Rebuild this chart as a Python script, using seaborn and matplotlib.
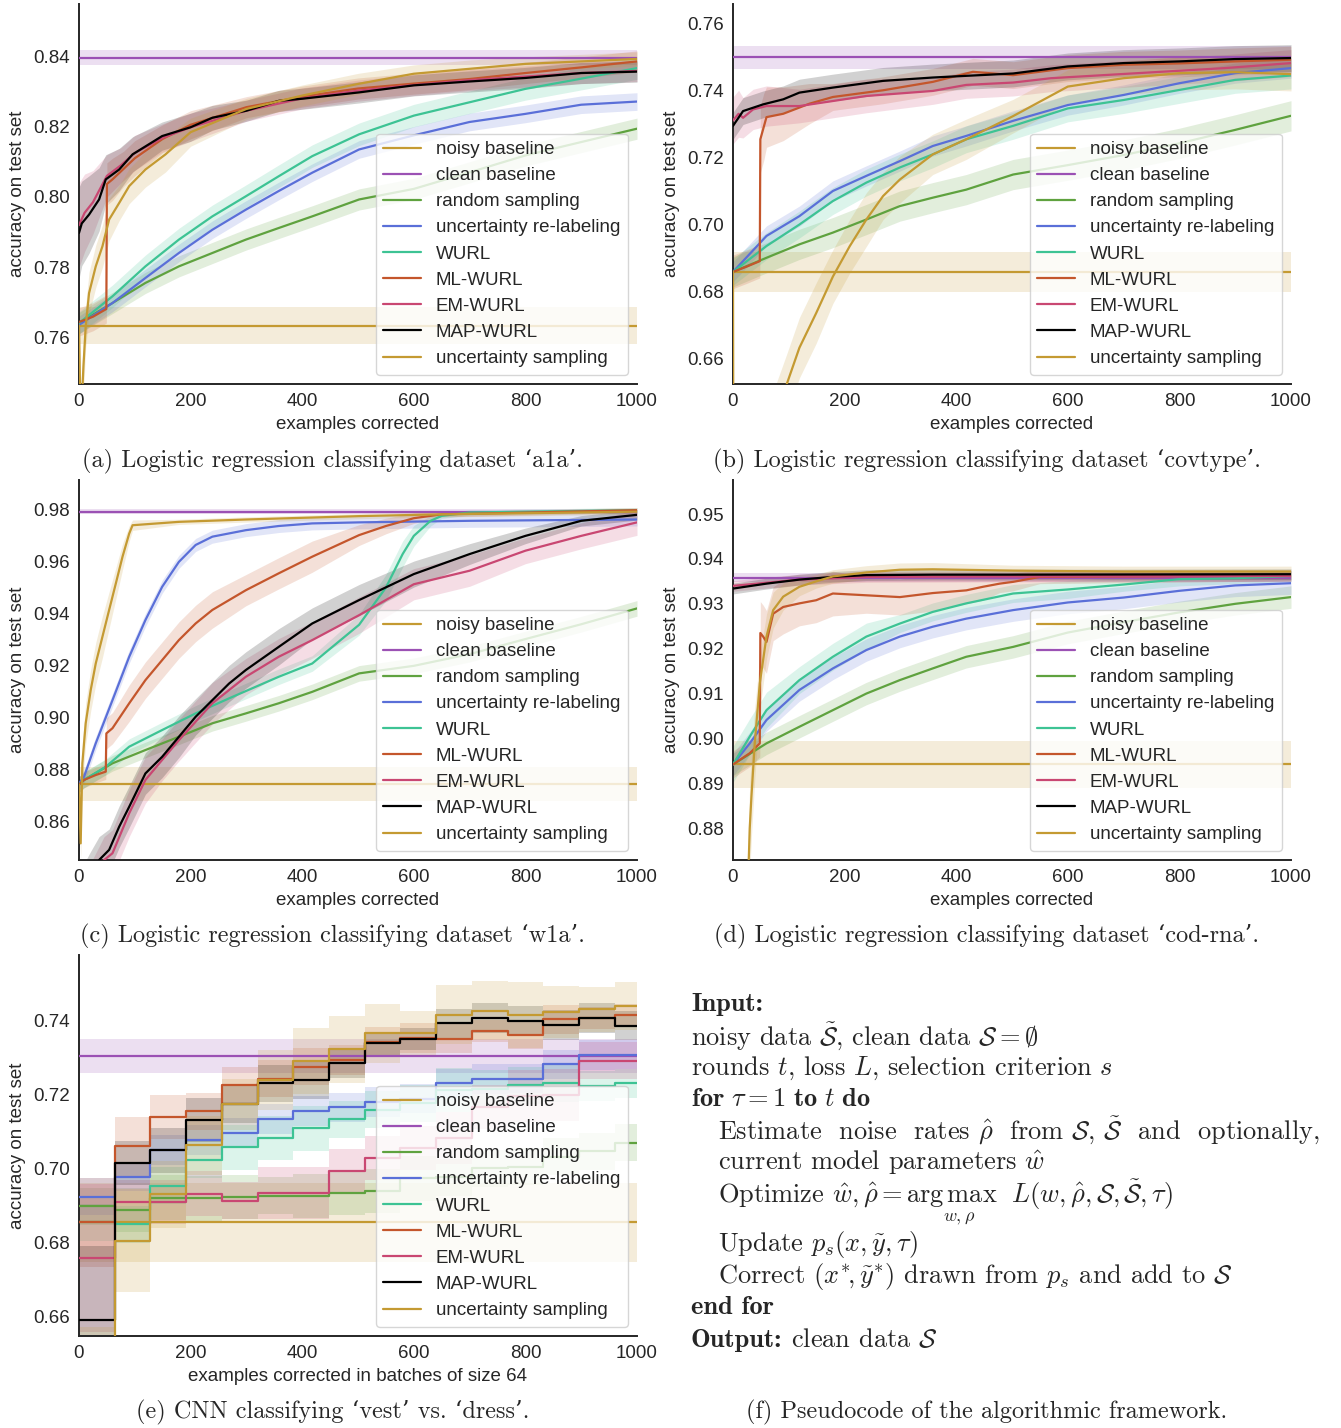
import numpy as np
import pandas as pd
import matplotlib
matplotlib.use("Agg")
import matplotlib.pyplot as plt
import seaborn as sns

# ---------------- common labels / ticks ----------------
METHODS = ["noisy baseline", "clean baseline", "random sampling",
           "uncertainty re-labeling", "WURL", "ML-WURL", "EM-WURL",
           "MAP-WURL", "uncertainty sampling"]
X_TICKS = [0, 200, 400, 600, 800, 1000]

# ---------------- panel (a) a1a ----------------
a_noisy, a_noisy_b = 0.7635, 0.0052
a_clean, a_clean_b = 0.8396, 0.0021
a_x_grid = [0, 60, 119, 179, 239, 299, 358, 418, 502, 600, 700, 800, 900, 1000]
a_y_rand = [0.7642, 0.7699, 0.7756, 0.7803, 0.7841, 0.7879, 0.7912, 0.7945, 0.7993, 0.8023, 0.8070, 0.8118, 0.8156, 0.8194]
a_y_unc = [0.7637, 0.7699, 0.7770, 0.7841, 0.7907, 0.7964, 0.8017, 0.8069, 0.8135, 0.8175, 0.8213, 0.8236, 0.8262, 0.8271]
a_y_wurl = [0.7642, 0.7718, 0.7803, 0.7879, 0.7945, 0.8002, 0.8059, 0.8116, 0.8178, 0.8231, 0.8269, 0.8307, 0.8336, 0.8366]
a_x_ml = [0, 25, 49, 50, 60, 80, 100, 150, 200, 300, 400, 500, 600, 700, 800, 900, 1000]
a_y_ml = [0.7645, 0.7660, 0.7682, 0.8037, 0.8050, 0.8080, 0.8110, 0.8165, 0.8205, 0.8255, 0.8285, 0.8308, 0.8322, 0.8335, 0.8352, 0.8368, 0.8385]
a_b_ml = [0.004, 0.004, 0.004, 0.006, 0.006, 0.005, 0.005, 0.004, 0.004, 0.003, 0.003, 0.003, 0.003, 0.003, 0.003, 0.003, 0.003]
a_x_em = [0, 10, 25, 50, 75, 100, 150, 200, 300, 400, 500, 600, 700, 800, 900, 1000]
a_y_em = [0.7920, 0.7955, 0.7985, 0.8060, 0.8090, 0.8125, 0.8168, 0.8198, 0.8245, 0.8280, 0.8302, 0.8318, 0.8332, 0.8342, 0.8352, 0.8358]
a_b_em = [0.012, 0.011, 0.009, 0.006, 0.005, 0.005, 0.004, 0.004, 0.003, 0.003, 0.003, 0.003, 0.003, 0.003, 0.003, 0.003]
a_x_map = [0, 5, 18, 36, 48, 72, 96, 149, 200, 239, 300, 358, 400, 502, 600, 700, 800, 900, 1000]
a_y_map = [0.7898, 0.7925, 0.7950, 0.7993, 0.8050, 0.8078, 0.8121, 0.8173, 0.8198, 0.8225, 0.8245, 0.8273, 0.8279, 0.8297, 0.8317, 0.8328, 0.8338, 0.8352, 0.8356]
a_b_map = [0.013, 0.012, 0.011, 0.009, 0.007, 0.006, 0.005, 0.004, 0.004, 0.0035, 0.003, 0.003, 0.003, 0.003, 0.003, 0.003, 0.003, 0.003, 0.003]
a_x_us = [0, 3, 8, 12, 18, 30, 42, 54, 72, 90, 119, 155, 200, 300, 400, 500, 600, 700, 800, 900, 1000]
a_y_us = [0.7635, 0.7350, 0.7520, 0.7632, 0.7727, 0.7803, 0.7860, 0.7936, 0.7983, 0.8031, 0.8078, 0.8121, 0.8184, 0.8250, 0.8288, 0.8321, 0.8350, 0.8364, 0.8378, 0.8385, 0.8392]
a_b_us = [0.010, 0.010, 0.008, 0.006, 0.006, 0.006, 0.006, 0.006, 0.005, 0.005, 0.005, 0.005, 0.004, 0.003, 0.003, 0.003, 0.0025, 0.0025, 0.002, 0.002, 0.002]

# ---------------- panel (b) covtype ----------------
b_noisy, b_noisy_b = 0.6859, 0.006
b_clean, b_clean_b = 0.7498, 0.0035
b_x_grid = [0, 60, 119, 179, 239, 299, 358, 418, 502, 600, 700, 800, 900, 1000]
b_y_rand = [0.6859, 0.6901, 0.6941, 0.6976, 0.7015, 0.7055, 0.7080, 0.7104, 0.7149, 0.7177, 0.7207, 0.7242, 0.7282, 0.7324]
b_y_unc = [0.6859, 0.6966, 0.7025, 0.7100, 0.7145, 0.7189, 0.7234, 0.7264, 0.7309, 0.7356, 0.7386, 0.7421, 0.7451, 0.7466]
b_y_wurl = [0.6859, 0.6936, 0.7000, 0.7070, 0.7125, 0.7170, 0.7209, 0.7254, 0.7294, 0.7346, 0.7371, 0.7401, 0.7431, 0.7444]
b_x_ml = [0, 25, 48, 49, 55, 60, 90, 137, 179, 269, 358, 430, 502, 600, 700, 800, 900, 1000]
b_y_ml = [0.6859, 0.6875, 0.6891, 0.7254, 0.7290, 0.7320, 0.7330, 0.7360, 0.7380, 0.7400, 0.7425, 0.7455, 0.7445, 0.7466, 0.7476, 0.7480, 0.7486, 0.7491]
b_b_ml = [0.005, 0.005, 0.005, 0.010, 0.010, 0.009, 0.008, 0.006, 0.004, 0.004, 0.004, 0.004, 0.004, 0.004, 0.004, 0.004, 0.004, 0.004]
b_x_em = [0, 10, 18, 36, 60, 119, 179, 239, 358, 418, 502, 570, 725, 881, 1000]
b_y_em = [0.7310, 0.7330, 0.7318, 0.7343, 0.7353, 0.7353, 0.7368, 0.7383, 0.7398, 0.7416, 0.7423, 0.7436, 0.7451, 0.7466, 0.7481]
b_b_em = [0.007, 0.007, 0.006, 0.006, 0.006, 0.005, 0.005, 0.005, 0.004, 0.004, 0.004, 0.004, 0.004, 0.004, 0.004]
b_x_map = [0, 18, 54, 90, 119, 179, 269, 358, 502, 600, 700, 800, 900, 1000]
b_y_map = [0.7294, 0.7338, 0.7358, 0.7373, 0.7393, 0.7408, 0.7428, 0.7438, 0.7450, 0.7471, 0.7481, 0.7486, 0.7493, 0.7496]
b_x_us = [0, 1, 50, 96, 119, 149, 179, 209, 239, 269, 299, 358, 418, 502, 600, 700, 800, 900, 1000]
b_y_us = [0.6859, 0.6000, 0.6300, 0.6523, 0.6633, 0.6736, 0.6845, 0.6935, 0.7015, 0.7085, 0.7134, 0.7209, 0.7254, 0.7323, 0.7411, 0.7436, 0.7451, 0.7454, 0.7448]
b_b_us = [0.006, 0.010, 0.010, 0.009, 0.009, 0.009, 0.008, 0.008, 0.008, 0.007, 0.007, 0.006, 0.006, 0.005, 0.005, 0.005, 0.005, 0.005, 0.005]

# ---------------- panel (c) w1a ----------------
c_noisy, c_noisy_b = 0.8741, 0.0065
c_clean, c_clean_b = 0.9790, 0.0010
c_x_us = [0, 3, 6, 12, 21, 30, 42, 54, 66, 78, 90, 96, 179, 299, 502, 650, 1000]
c_y_us = [0.8740, 0.8514, 0.8822, 0.8976, 0.9104, 0.9206, 0.9309, 0.9412, 0.9514, 0.9617, 0.9706, 0.9738, 0.9751, 0.9760, 0.9773, 0.9780, 0.9790]
c_b_us = [0.006, 0.006, 0.008, 0.008, 0.008, 0.008, 0.008, 0.007, 0.006, 0.005, 0.003, 0.002, 0.001, 0.001, 0.001, 0.001, 0.001]
c_x_unc = [0, 9, 30, 60, 90, 119, 149, 179, 209, 239, 299, 358, 418, 502, 700, 1000]
c_y_unc = [0.8745, 0.8770, 0.8899, 0.9065, 0.9232, 0.9373, 0.9501, 0.9597, 0.9662, 0.9694, 0.9719, 0.9735, 0.9745, 0.9749, 0.9755, 0.9760]
c_x_ml = [0, 9, 30, 48, 49, 60, 90, 119, 149, 179, 209, 239, 299, 358, 418, 502, 550, 600, 650, 700, 1000]
c_y_ml = [0.8740, 0.8758, 0.8777, 0.8790, 0.8937, 0.8957, 0.9053, 0.9142, 0.9219, 0.9296, 0.9360, 0.9412, 0.9488, 0.9553, 0.9617, 0.9700, 0.9735, 0.9765, 0.9780, 0.9782, 0.9796]
c_b_ml = [0.003, 0.003, 0.003, 0.003, 0.006, 0.006, 0.007, 0.007, 0.007, 0.007, 0.007, 0.007, 0.006, 0.006, 0.006, 0.004, 0.003, 0.002, 0.001, 0.001, 0.001]
c_x_wurl = [0, 9, 48, 90, 149, 209, 269, 358, 418, 502, 550, 580, 600, 630, 650, 700, 1000]
c_y_wurl = [0.8740, 0.8758, 0.8809, 0.8886, 0.8950, 0.9014, 0.9072, 0.9155, 0.9206, 0.9355, 0.9498, 0.9627, 0.9697, 0.9755, 0.9774, 0.9787, 0.9796]
c_b_wurl = [0.003, 0.003, 0.003, 0.003, 0.003, 0.003, 0.003, 0.003, 0.003, 0.004, 0.005, 0.005, 0.004, 0.002, 0.001, 0.001, 0.001]
c_x_map = [0, 20, 36, 54, 72, 90, 119, 149, 179, 209, 239, 269, 299, 358, 418, 502, 600, 700, 800, 900, 1000]
c_y_map = [0.8300, 0.8380, 0.8450, 0.8489, 0.8578, 0.8655, 0.8783, 0.8847, 0.8924, 0.9001, 0.9065, 0.9129, 0.9181, 0.9270, 0.9360, 0.9450, 0.9550, 0.9627, 0.9697, 0.9755, 0.9778]
c_b_map = [0.010, 0.010, 0.009, 0.008, 0.008, 0.008, 0.008, 0.008, 0.008, 0.007, 0.007, 0.007, 0.007, 0.007, 0.006, 0.006, 0.005, 0.004, 0.003, 0.002, 0.002]
c_x_em = [0, 45, 60, 90, 119, 149, 179, 239, 299, 358, 418, 502, 600, 700, 800, 900, 1000]
c_y_em = [0.8250, 0.8450, 0.8476, 0.8630, 0.8758, 0.8835, 0.8911, 0.9053, 0.9155, 0.9232, 0.9296, 0.9392, 0.9511, 0.9563, 0.9640, 0.9697, 0.9749]
c_b_em = [0.010, 0.009, 0.009, 0.009, 0.009, 0.008, 0.008, 0.008, 0.007, 0.007, 0.007, 0.007, 0.006, 0.006, 0.005, 0.005, 0.005]
c_x_rand = [0, 9, 60, 119, 179, 239, 299, 358, 418, 502, 600, 700, 800, 900, 1000]
c_y_rand = [0.8740, 0.8758, 0.8822, 0.8873, 0.8924, 0.8976, 0.9014, 0.9053, 0.9097, 0.9168, 0.9197, 0.9242, 0.9300, 0.9357, 0.9418]

# ---------------- panel (d) cod-rna ----------------
d_noisy, d_noisy_b = 0.8942, 0.0052
d_clean, d_clean_b = 0.9358, 0.0010
d_x_map = [0, 60, 119, 179, 239, 358, 502, 1000]
d_y_map = [0.9334, 0.9345, 0.9354, 0.9360, 0.9364, 0.9365, 0.9365, 0.9366]
d_x_em = [0, 119, 239, 502, 1000]
d_y_em = [0.9340, 0.9354, 0.9360, 0.9361, 0.9362]
d_x_us = [0, 25, 30, 33, 39, 48, 60, 72, 90, 119, 149, 179, 239, 299, 358, 502, 700, 1000]
d_y_us = [0.8000, 0.8600, 0.8800, 0.8870, 0.8989, 0.9123, 0.9227, 0.9286, 0.9316, 0.9338, 0.9350, 0.9361, 0.9370, 0.9376, 0.9377, 0.9374, 0.9372, 0.9372]
d_b_us = [0.010, 0.010, 0.010, 0.009, 0.008, 0.006, 0.005, 0.004, 0.003, 0.002, 0.0015, 0.0015, 0.0015, 0.0015, 0.0015, 0.0012, 0.0012, 0.0012]
d_x_ml = [0, 30, 48, 49, 54, 60, 72, 90, 119, 149, 179, 239, 299, 358, 418, 448, 478, 502, 550, 1000]
d_y_ml = [0.8942, 0.8967, 0.8989, 0.9235, 0.9227, 0.9215, 0.9278, 0.9293, 0.9301, 0.9308, 0.9323, 0.9319, 0.9315, 0.9324, 0.9330, 0.9338, 0.9345, 0.9349, 0.9360, 0.9363]
d_b_ml = [0.003, 0.003, 0.003, 0.007, 0.007, 0.007, 0.006, 0.006, 0.005, 0.005, 0.005, 0.004, 0.004, 0.004, 0.003, 0.003, 0.002, 0.002, 0.0015, 0.0012]
d_x_grid = [0, 30, 60, 119, 179, 239, 299, 358, 418, 502, 600, 700, 800, 900, 1000]
d_y_wurl = [0.8942, 0.9004, 0.9063, 0.9130, 0.9182, 0.9227, 0.9256, 0.9282, 0.9301, 0.9323, 0.9332, 0.9343, 0.9355, 0.9357, 0.9362]
d_b_wurl = [0.004, 0.004, 0.004, 0.003, 0.003, 0.003, 0.002, 0.002, 0.002, 0.002, 0.002, 0.0015, 0.0015, 0.0012, 0.0012]
d_y_unc = [0.8942, 0.8989, 0.9041, 0.9108, 0.9156, 0.9197, 0.9227, 0.9249, 0.9267, 0.9286, 0.9303, 0.9314, 0.9329, 0.9341, 0.9346]
d_x_rand = [0, 60, 119, 179, 239, 299, 358, 418, 502, 600, 700, 800, 900, 1000]
d_y_rand = [0.8942, 0.8989, 0.9026, 0.9063, 0.9100, 0.9130, 0.9156, 0.9182, 0.9204, 0.9236, 0.9259, 0.9281, 0.9300, 0.9315]

# ---------------- panel (e) CNN, batches of 64 ----------------
e_batch_starts = [0, 64, 128, 192, 256, 320, 384, 448, 512, 576, 640, 704, 768, 832, 896, 960]
e_x_end = 1000
e_noisy, e_noisy_b = 0.6853, 0.0106
e_clean, e_clean_b = 0.7304, 0.0046
e_y_us = [0.6450, 0.6804, 0.6929, 0.7062, 0.7172, 0.7238, 0.7290, 0.7321, 0.7364, 0.7364, 0.7415, 0.7425, 0.7414, 0.7421, 0.7429, 0.7438]
e_b_us = [0.012, 0.014, 0.009, 0.008, 0.007, 0.008, 0.009, 0.009, 0.008, 0.006, 0.008, 0.008, 0.009, 0.007, 0.006, 0.0065]
e_y_ml = [0.6853, 0.7059, 0.7138, 0.7154, 0.7224, 0.7242, 0.7274, 0.7292, 0.7341, 0.7352, 0.7350, 0.7370, 0.7361, 0.7402, 0.7405, 0.7414]
e_b_ml = [0.012, 0.008, 0.006, 0.005, 0.005, 0.005, 0.005, 0.004, 0.004, 0.004, 0.004, 0.003, 0.004, 0.004, 0.003, 0.003]
e_y_map = [0.6589, 0.7013, 0.7048, 0.7130, 0.7172, 0.7229, 0.7238, 0.7283, 0.7337, 0.7349, 0.7391, 0.7406, 0.7397, 0.7386, 0.7405, 0.7385]
e_b_map = [0.020, 0.006, 0.006, 0.006, 0.005, 0.005, 0.005, 0.004, 0.003, 0.003, 0.004, 0.004, 0.004, 0.004, 0.004, 0.004]
e_y_unc = [0.6922, 0.6977, 0.7049, 0.7076, 0.7094, 0.7132, 0.7155, 0.7164, 0.7179, 0.7188, 0.7229, 0.7241, 0.7242, 0.7280, 0.7305, 0.7307]
e_b_unc = [0.005, 0.004, 0.004, 0.004, 0.004, 0.004, 0.004, 0.004, 0.004, 0.004, 0.004, 0.004, 0.004, 0.004, 0.004, 0.004]
e_y_wurl = [0.6853, 0.6848, 0.6952, 0.7022, 0.7056, 0.7082, 0.7107, 0.7132, 0.7157, 0.7175, 0.7211, 0.7215, 0.7224, 0.7229, 0.7222, 0.7229]
e_b_wurl = [0.005, 0.005, 0.005, 0.005, 0.006, 0.006, 0.006, 0.005, 0.005, 0.005, 0.006, 0.005, 0.005, 0.005, 0.004, 0.004]
e_y_em = [0.6758, 0.6909, 0.6909, 0.6931, 0.6911, 0.6933, 0.6933, 0.6992, 0.7028, 0.7055, 0.7082, 0.7165, 0.7195, 0.7197, 0.7290, 0.7290]
e_b_em = [0.020, 0.006, 0.006, 0.006, 0.005, 0.007, 0.007, 0.006, 0.006, 0.006, 0.007, 0.006, 0.007, 0.007, 0.005, 0.005]
e_y_rand = [0.6897, 0.6886, 0.6920, 0.6918, 0.6922, 0.6925, 0.6925, 0.6933, 0.6938, 0.6972, 0.6975, 0.6999, 0.7004, 0.7031, 0.7046, 0.7068]
e_b_rand = [0.005, 0.006, 0.006, 0.006, 0.006, 0.005, 0.006, 0.006, 0.006, 0.006, 0.005, 0.005, 0.005, 0.005, 0.005, 0.005]

# ---------------- axes ranges / ticks ----------------
a_ylim, a_yticks = (0.7469, 0.8548), [0.76, 0.78, 0.80, 0.82, 0.84]
b_ylim, b_yticks = (0.6525, 0.7657), [0.66, 0.68, 0.70, 0.72, 0.74, 0.76]
c_ylim, c_yticks = (0.8450, 0.9912), [0.86, 0.88, 0.90, 0.92, 0.94, 0.96, 0.98]
d_ylim, d_yticks = (0.8729, 0.9576), [0.88, 0.89, 0.90, 0.91, 0.92, 0.93, 0.94, 0.95]
e_ylim, e_yticks = (0.6546, 0.7576), [0.66, 0.68, 0.70, 0.72, 0.74]

CAPTIONS = ["(a) Logistic regression classifying dataset \u2018a1a\u2019.",
            "(b) Logistic regression classifying dataset \u2018covtype\u2019.",
            "(c) Logistic regression classifying dataset \u2018w1a\u2019.",
            "(d) Logistic regression classifying dataset \u2018cod-rna\u2019.",
            "(e) CNN classifying \u2018vest\u2019 vs. \u2018dress\u2019.",
            "(f) Pseudocode of the algorithmic framework."]

PSEUDO = [
    (0, None, "Input:"),
    (0, r"noisy data $\tilde{\mathcal{S}}$, clean data $\mathcal{S} = \emptyset$", None),
    (0, r"rounds $t$, loss $L$, selection criterion $s$", None),
    (0, r"$\mathbf{for}\ \tau = 1\ \mathbf{to}\ t\ \mathbf{do}$", None),
    (1, r"Estimate  noise  rates $\hat{\rho}$  from $\mathcal{S}$, $\tilde{\mathcal{S}}$  and  optionally,", None),
    (1, r"current model parameters $\hat{w}$", None),
    (1, r"Optimize $\hat{w}, \hat{\rho} = \mathrm{arg\,max}\ \ L(w, \hat{\rho}, \mathcal{S}, \tilde{\mathcal{S}}, \tau)$", None),
    (1, r"Update $p_s(x, \tilde{y}, \tau)$", None),
    (1, r"Correct $(x^{*}\!, \tilde{y}^{*})$ drawn from $p_s$ and add to $\mathcal{S}$", None),
    (0, None, "end for"),
    (0, r"clean data $\mathcal{S}$", "Output:"),
]

# ---------------- style ----------------
sns.set_theme(style="white")
plt.rcParams['font.family'] = ['Liberation Sans', 'DejaVu Sans']
plt.rcParams['mathtext.fontset'] = 'cm'
FS = 13.5

COLORS = {"noisy baseline": "#c49a32", "clean baseline": "#9b51b4",
          "random sampling": "#5fa23f", "uncertainty re-labeling": "#5a6fd8",
          "WURL": "#3dc394", "ML-WURL": "#c4562c", "EM-WURL": "#c94772",
          "MAP-WURL": "#000000", "uncertainty sampling": "#c49a32"}

W, H = 1341, 1428
fig = plt.figure(figsize=(W / 100, H / 100), dpi=100)


def rect(l, t, r, b):
    return [l / W, 1 - b / H, (r - l) / W, (b - t) / H]


def hline(v):
    return [0, 1000], [v, v]


def draw(ax, series, ylim, yticks, xlabel, step=False):
    handles = []
    for name, x, y, b in series:
        x = np.asarray(x, float)
        y = np.asarray(y, float)
        b = np.broadcast_to(np.asarray(b, float), y.shape)
        if step:
            x = np.append(x, e_x_end)
            y = np.append(y, y[-1])
            b = np.append(b, b[-1])
        c = COLORS[name]
        ax.fill_between(x, y - b, y + b, color=c, alpha=0.18, lw=0, zorder=1,
                        step='post' if step else None)
        df = pd.DataFrame({"examples": x, "acc": y})
        kw = dict(drawstyle='steps-post') if step else {}
        sns.lineplot(data=df, x="examples", y="acc", ax=ax, color=c, lw=1.6,
                     estimator=None, sort=False, zorder=3, **kw)
        handles.append(ax.lines[-1])
    ax.set_xlim(0, 1000)
    ax.set_ylim(*ylim)
    ax.set_xticks(X_TICKS)
    ax.set_yticks(yticks)
    ax.set_yticklabels([f"{t:.2f}" for t in yticks])
    ax.set_xlabel(xlabel, fontsize=FS, labelpad=4)
    ax.set_ylabel("accuracy on test set", fontsize=FS, labelpad=5)
    ax.tick_params(labelsize=FS, colors='.15', length=0, pad=6.5)
    for s in ['left', 'bottom']:
        ax.spines[s].set_color('.15')
        ax.spines[s].set_linewidth(1.4)
    sns.despine(ax=ax)
    ax.legend(handles, METHODS, loc='lower right', fontsize=FS,
              labelspacing=0.48, handlelength=2.0, frameon=True,
              borderaxespad=0.5)


def build(noisy, noisy_b, clean, clean_b, parts):
    s = [("noisy baseline", *hline(noisy), noisy_b),
         ("clean baseline", *hline(clean), clean_b)]
    return s + parts


ax = fig.add_axes(rect(79, 4, 637, 384))
draw(ax, build(a_noisy, a_noisy_b, a_clean, a_clean_b, [
    ("random sampling", a_x_grid, a_y_rand, 0.003),
    ("uncertainty re-labeling", a_x_grid, a_y_unc, 0.0025),
    ("WURL", a_x_grid, a_y_wurl, 0.0032),
    ("ML-WURL", a_x_ml, a_y_ml, a_b_ml),
    ("EM-WURL", a_x_em, a_y_em, a_b_em),
    ("MAP-WURL", a_x_map, a_y_map, a_b_map),
    ("uncertainty sampling", a_x_us, a_y_us, a_b_us)]),
    a_ylim, a_yticks, "examples corrected")

ax = fig.add_axes(rect(733, 4, 1291, 384))
draw(ax, build(b_noisy, b_noisy_b, b_clean, b_clean_b, [
    ("random sampling", b_x_grid, b_y_rand, 0.0045),
    ("uncertainty re-labeling", b_x_grid, b_y_unc, 0.003),
    ("WURL", b_x_grid, b_y_wurl, 0.004),
    ("ML-WURL", b_x_ml, b_y_ml, b_b_ml),
    ("EM-WURL", b_x_em, b_y_em, b_b_em),
    ("MAP-WURL", b_x_map, b_y_map, 0.004),
    ("uncertainty sampling", b_x_us, b_y_us, b_b_us)]),
    b_ylim, b_yticks, "examples corrected")

ax = fig.add_axes(rect(79, 480, 637, 860))
draw(ax, build(c_noisy, c_noisy_b, c_clean, c_clean_b, [
    ("random sampling", c_x_rand, c_y_rand, 0.003),
    ("uncertainty re-labeling", c_x_unc, c_y_unc, 0.0025),
    ("WURL", c_x_wurl, c_y_wurl, c_b_wurl),
    ("ML-WURL", c_x_ml, c_y_ml, c_b_ml),
    ("EM-WURL", c_x_em, c_y_em, c_b_em),
    ("MAP-WURL", c_x_map, c_y_map, c_b_map),
    ("uncertainty sampling", c_x_us, c_y_us, c_b_us)]),
    c_ylim, c_yticks, "examples corrected")

ax = fig.add_axes(rect(733, 480, 1291, 860))
draw(ax, build(d_noisy, d_noisy_b, d_clean, d_clean_b, [
    ("random sampling", d_x_rand, d_y_rand, 0.0025),
    ("uncertainty re-labeling", d_x_grid, d_y_unc, 0.0025),
    ("WURL", d_x_grid, d_y_wurl, d_b_wurl),
    ("ML-WURL", d_x_ml, d_y_ml, d_b_ml),
    ("EM-WURL", d_x_em, d_y_em, 0.0012),
    ("MAP-WURL", d_x_map, d_y_map, 0.0012),
    ("uncertainty sampling", d_x_us, d_y_us, d_b_us)]),
    d_ylim, d_yticks, "examples corrected")

ax = fig.add_axes(rect(79, 955, 637, 1336))
ones = np.ones(len(e_batch_starts))
draw(ax, [
    ("noisy baseline", e_batch_starts, e_noisy * ones, e_noisy_b),
    ("clean baseline", e_batch_starts, e_clean * ones, e_clean_b),
    ("random sampling", e_batch_starts, e_y_rand, e_b_rand),
    ("uncertainty re-labeling", e_batch_starts, e_y_unc, e_b_unc),
    ("WURL", e_batch_starts, e_y_wurl, e_b_wurl),
    ("ML-WURL", e_batch_starts, e_y_ml, e_b_ml),
    ("EM-WURL", e_batch_starts, e_y_em, e_b_em),
    ("MAP-WURL", e_batch_starts, e_y_map, e_b_map),
    ("uncertainty sampling", e_batch_starts, e_y_us, e_b_us)],
    e_ylim, e_yticks, "examples corrected in batches of size 64", step=True)

# ---------------- captions ----------------
SERIF = ['cmr10', 'DejaVu Serif']
SERIF_B = ['cmb10', 'DejaVu Serif']
CAP_FS = 17.5
cap_pos = [(332, 461), (987, 461), (332, 936), (987, 936), (333, 1412), (987, 1412)]
for (cx, cy), txt in zip(cap_pos, CAPTIONS):
    fig.text(cx / W, 1 - cy / H, txt, ha='center', va='center',
             fontsize=CAP_FS, family=SERIF)

# ---------------- pseudocode panel (f) ----------------
PS_FS = 19
line_y = [1004, 1036, 1068, 1099, 1131, 1163, 1195, 1245, 1277, 1308, 1340]
for (ind, txt, bold), yy in zip(PSEUDO, line_y):
    xx = 691 if ind == 0 else 718
    if bold is not None:
        fig.text(xx / W, 1 - yy / H, bold, ha='left', va='center',
                 fontsize=PS_FS, family=SERIF_B)
        xx = 791
    if txt is not None:
        fig.text(xx / W, 1 - yy / H, txt, ha='left', va='center',
                 fontsize=PS_FS, family=SERIF)
fig.text(959 / W, 1 - 1219 / H, r"$w,\rho$", ha='center', va='center',
         fontsize=13, family=SERIF)

fig.savefig("out.png", dpi=100)
